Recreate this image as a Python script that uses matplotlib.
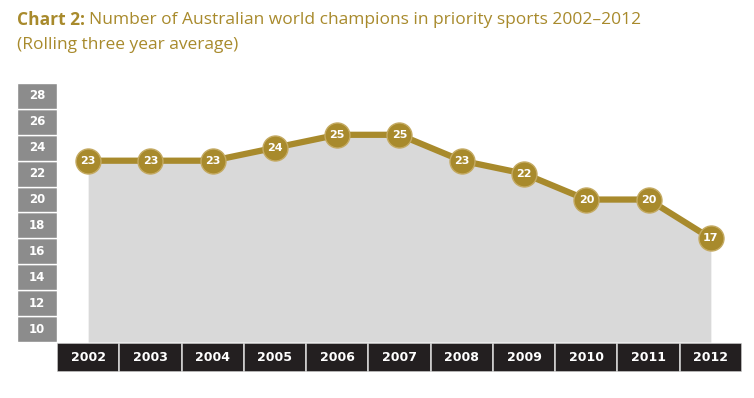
import numpy as np
import matplotlib.pyplot as plt
from matplotlib.patches import Rectangle

years = [2002, 2003, 2004, 2005, 2006, 2007, 2008, 2009, 2010, 2011, 2012]
champions = [23, 23, 23, 24, 25, 25, 23, 22, 20, 20, 17]
yticks = [10, 12, 14, 16, 18, 20, 22, 24, 26, 28]

GOLD = '#a88a2c'
W, H = 754, 398

fig = plt.figure(figsize=(W/100, H/100), dpi=100)

def px_axes(x0, y0, x1, y1):
    # pixel box (top-left origin) -> figure axes
    return fig.add_axes([x0/W, 1-y1/H, (x1-x0)/W, (y1-y0)/H])

# main plot area
ax = px_axes(57, 83, 742, 342)
ax.set_xlim(2001.5, 2012.5)
ax.set_ylim(9, 29)
ax.axis('off')
ax.fill_between(years, champions, 9, color='#d9d9d9', lw=0, zorder=1)
ax.plot(years, champions, color=GOLD, lw=4.5, zorder=2, solid_capstyle='round')
ax.plot(years, champions, 'o', ms=18, color=GOLD, mec='#c4aa62', mew=1.0, zorder=3)
for x, v in zip(years, champions):
    ax.text(x, v, str(v), ha='center', va='center', color='white',
            fontsize=8, fontweight='heavy', zorder=4)

# y-axis boxes
ay = px_axes(17, 83, 57, 342)
ay.set_xlim(0, 1)
ay.set_ylim(9, 29)
ay.axis('off')
for t in yticks:
    ay.add_patch(Rectangle((0, t-1), 1, 2, facecolor='#8c8c8c', edgecolor='white', lw=1.0))
    ay.text(0.5, t, str(t), ha='center', va='center', color='white', fontsize=8.5,
            fontweight='semibold')

# x-axis year boxes
axx = px_axes(57, 343, 742, 372)
axx.set_xlim(2001.5, 2012.5)
axx.set_ylim(0, 1)
axx.axis('off')
for yr in years:
    axx.add_patch(Rectangle((yr-0.5, 0), 1, 1, facecolor='#231f20', edgecolor='#d0d0d0', lw=1.2))
    axx.text(yr, 0.5, str(yr), ha='center', va='center', color='white',
             fontsize=9, fontweight='heavy')

# title
t1 = fig.text(17/W, 1-20/H, 'Chart 2:', fontsize=12.5, fontweight='bold', color=GOLD,
              va='center', ha='left', family='Open Sans')
fig.canvas.draw()
bb = t1.get_window_extent()
fig.text((bb.x1 + 4)/W, 1-20/H, 'Number of Australian world champions in priority sports 2002–2012',
         fontsize=12.5, color=GOLD, va='center', ha='left', family='Open Sans')
fig.text(17/W, 1-45/H, '(Rolling three year average)', fontsize=12.5, color=GOLD,
         va='center', ha='left', family='Open Sans')

fig.savefig('out.png', dpi=100)
